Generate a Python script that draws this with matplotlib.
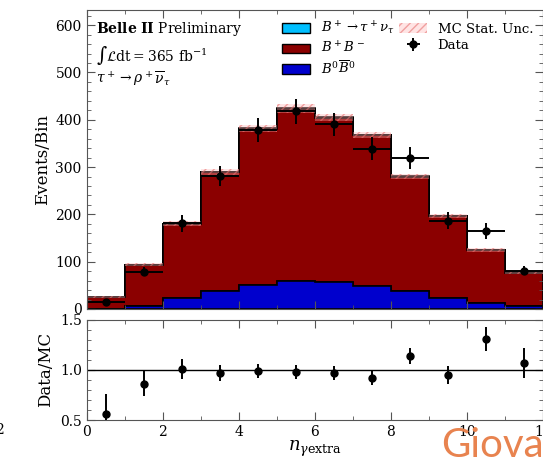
import matplotlib
matplotlib.use("Agg")
import matplotlib.pyplot as plt
import numpy as np
from matplotlib.patches import Patch
from matplotlib.ticker import MultipleLocator

# Data
edges = np.arange(13)
centers = edges[:-1] + 0.5
sig = [0.1, 0.2, 0.4, 0.6, 0.8, 0.9, 0.9, 0.8, 0.6, 0.4, 0.3, 0.2]
bpbm = [24, 87, 157, 250, 330, 363, 346, 319, 243, 172, 113, 71]
b0b0 = [1, 6, 23, 39, 51, 60, 58, 48, 37, 24, 12, 6]
mc_err = [2, 3, 5, 6, 8, 9, 8, 7, 5, 5, 4, 3]
data = [14, 79, 181, 281, 378, 418, 390, 339, 319, 187, 165, 81]
data_err = [4, 10, 18, 22, 26, 26, 25, 25, 23, 18, 16, 9]
ratio = [0.56, 0.86, 1.01, 0.97, 0.99, 0.98, 0.965, 0.92, 1.14, 0.95, 1.305, 1.067]
ratio_err = [0.2, 0.125, 0.1, 0.078, 0.07, 0.07, 0.07, 0.07, 0.08, 0.09, 0.12, 0.15]

plt.rcParams['font.family'] = 'DejaVu Serif'
plt.rcParams['mathtext.fontset'] = 'dejavuserif'
plt.rcParams['font.size'] = 10

c_sig = '#00bfff'
c_bpbm = '#8b0000'
c_b0 = '#0000cd'

fig = plt.figure(figsize=(5.43, 4.59), dpi=100)
W, H = 543.0, 459.0
ax = fig.add_axes([86.6 / W, 1 - 309 / H, 456.4 / W, 299 / H])
rax = fig.add_axes([86.6 / W, 1 - 420 / H, 456.4 / W, 100.5 / H], sharex=ax)

# stacked MC
ax.hist([centers, centers, centers], bins=edges, weights=[b0b0, bpbm, sig],
        stacked=True, histtype='stepfilled', color=[c_b0, c_bpbm, c_sig],
        edgecolor='black', linewidth=1.2)
total = np.array(b0b0) + np.array(bpbm) + np.array(sig)
ax.bar(centers, 2 * np.array(mc_err), bottom=total - np.array(mc_err), width=1.0,
       facecolor=(1.0, 0.7, 0.7, 0.35), edgecolor=(0.9, 0.45, 0.45, 0.6),
       hatch='////', linewidth=0)
ax.errorbar(centers, data, yerr=data_err, xerr=0.5, fmt='o', color='black',
            markersize=5, elinewidth=1.4, capsize=0)

ax.set_xlim(0, 12)
ax.set_ylim(0, 632)
ax.set_ylabel('Events/Bin', fontsize=12)
ax.yaxis.set_label_coords(-0.077, 0.5)
ax.yaxis.set_major_locator(MultipleLocator(100))
ax.yaxis.set_minor_locator(MultipleLocator(20))
ax.xaxis.set_major_locator(MultipleLocator(2))
ax.xaxis.set_minor_locator(MultipleLocator(0.5))
ax.tick_params(labelbottom=False)

ax.text(0.02, 0.965, r'$\mathbf{Belle\ II}$ Preliminary', transform=ax.transAxes,
        va='top', ha='left', fontsize=10)
ax.text(0.02, 0.885, r'$\int\mathcal{L}\mathrm{dt} = 365\ \mathrm{fb}^{-1}$',
        transform=ax.transAxes, va='top', ha='left', fontsize=10)
ax.text(0.02, 0.805, r'$\tau^+ \rightarrow \rho^+ \overline{\nu}_\tau$',
        transform=ax.transAxes, va='top', ha='left', fontsize=10)

handles = [Patch(facecolor=c_sig, edgecolor='black'),
           Patch(facecolor=c_bpbm, edgecolor='black'),
           Patch(facecolor=c_b0, edgecolor='black'),
           Patch(facecolor=(1.0, 0.7, 0.7, 0.35), edgecolor=(0.9, 0.45, 0.45, 0.6),
                 hatch='////', linewidth=0),
           ax.errorbar([], [], yerr=[], xerr=[], fmt='o', color='black',
                       markersize=5, elinewidth=1.4)]
labels = [r'$B^+ \rightarrow \tau^+ \nu_\tau$', r'$B^+B^-$', r'$B^0\overline{B}^0$',
          'MC Stat. Unc.', 'Data']
ax.legend(handles, labels, ncol=2, frameon=False, loc='upper left',
          bbox_to_anchor=(277 / W, 1 - 15 / H), bbox_transform=fig.transFigure,
          borderaxespad=0, columnspacing=0.4, handlelength=2.1, labelspacing=0.25,
          handletextpad=0.8, fontsize=9.5)

# ratio
rax.axhline(1.0, color='black', linewidth=1)
rax.errorbar(centers, ratio, yerr=ratio_err, fmt='o', color='black',
             markersize=5, elinewidth=1.4, capsize=0)
rax.set_ylim(0.5, 1.5)
rax.set_yticks([0.5, 1.0, 1.5])
rax.yaxis.set_minor_locator(MultipleLocator(0.1))
rax.xaxis.set_minor_locator(MultipleLocator(1))
rax.set_ylabel('Data/MC', fontsize=12)
rax.yaxis.set_label_coords(-0.072, 0.5)
rax.set_xlabel(r'$n_{\gamma \mathrm{extra}}$', fontsize=13, labelpad=0)

for a in (ax, rax):
    a.tick_params(which='both', direction='in', top=True, right=True,
                  color='#555555', labelsize=10)
    a.tick_params(which='major', length=6)
    a.tick_params(which='minor', length=3)
    for s in a.spines.values():
        s.set_color('#555555')

fig.text(-5 / W, 1 - 430 / H, '2', fontsize=10, va='center', ha='left')
fig.text(441 / W, 1 - 457 / H, 'Giova', fontsize=29, color='#e8834f',
         family='Lato', va='baseline', ha='left')

fig.savefig('out.png', dpi=100)
